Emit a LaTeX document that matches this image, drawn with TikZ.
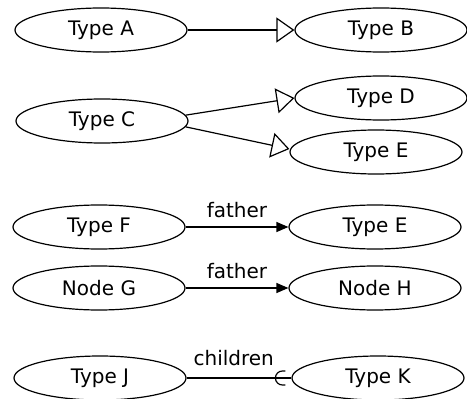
\documentclass[tikz,border=0pt]{standalone}
\usepackage{fontspec}
\setmainfont{DejaVu Sans}
\usetikzlibrary{shapes.geometric,arrows.meta}

\begin{document}
\begin{tikzpicture}[x=1pt, y=-1pt, line width=1.2pt,
  typenode/.style={draw, ellipse, minimum width=172pt, minimum height=44pt, inner sep=0pt, font=\fontsize{20}{24}\selectfont},
  edgelabel/.style={inner sep=0pt, font=\fontsize{20}{24}\selectfont},
  isa/.style={-{Triangle[open, length=18pt, width=25pt, line width=1.2pt]}},
  ref/.style={-{Triangle[length=12pt, width=10pt]}}]
\useasboundingbox (0,0) rectangle (467,399);
\node [typenode] (A) at (101,30) {Type A};
\node [typenode] (B) at (381,30) {Type B};
\node [typenode] (C) at (102,121) {Type C};
\node [typenode] (D) at (381,98) {Type D};
\node [typenode] (E) at (376,152) {Type E};
\node [typenode] (F) at (99,227) {Type F};
\node [typenode] (Ef) at (375,227) {Type E};
\node [typenode] (G) at (99,288) {Node G};
\node [typenode] (H) at (375,288) {Node H};
\node [typenode] (J) at (100,378) {Type J};
\node [typenode] (K) at (378,378) {Type K};
\draw [isa] (A) -- (B);
\draw [isa] (C.4) -- (D.west);
\draw [isa] (C.-4) -- ([yshift=3pt]E.west);
\draw [ref] (F) -- node [edgelabel, above=9pt] (fF) {father} (Ef);
\draw [ref] (G) -- node [edgelabel, above=9pt] (fG) {father} (H);
\draw (J) -- node [edgelabel, above=12pt, pos=.45] (cJ) {children} (K);
% member-of mark in front of Type K
\coordinate (cK) at ([xshift=-9pt]K.west);
\draw (cK) ++(3,-7) -- ++(-3,0) arc (270:90:7) -- ++(3,0);
\end{tikzpicture}
\end{document}
